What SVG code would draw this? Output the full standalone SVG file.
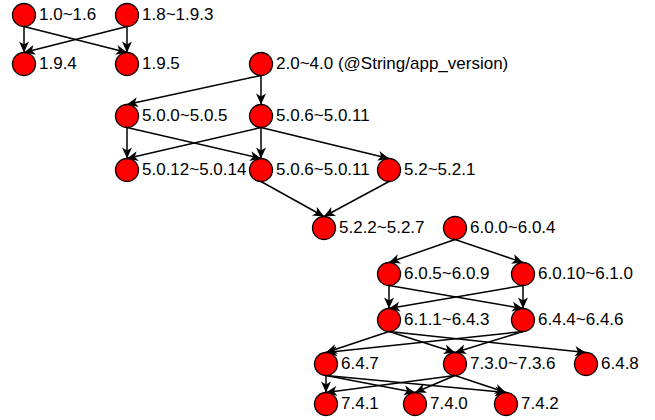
<svg xmlns="http://www.w3.org/2000/svg" width="655" height="420" viewBox="0 0 655 420">
  <defs>
    <style>
      .node circle { fill: #ff0000; stroke: #000; stroke-width: 1.3; }
      .node text { font-family: "Liberation Sans", Arial, Helvetica, sans-serif; font-size: 17px; fill: #000; }
      .edges path { fill: none; stroke: #000; stroke-width: 1.5; marker-end: url(#arrow); }
    </style>
    <!-- edges leave from the bottom of a node and end with the tip on the top of the next -->
    <marker id="arrow" markerUnits="userSpaceOnUse" markerWidth="12" markerHeight="11" refX="11" refY="5" orient="auto" overflow="visible">
      <path d="M0,0 L11,5 L0,10 L3,5 Z" fill="#000"/>
    </marker>
  </defs>

  <g id="connectors" class="edges">
    <path d="M24,26.5 L24,52.5"/>
    <path d="M24,26.5 L127,52.5"/>
    <path d="M127,26.5 L127,52.5"/>
    <path d="M127,26.5 L24,52.5"/>

    <path d="M261,75.5 L127,104.5"/>
    <path d="M261,75.5 L261,104.5"/>

    <path d="M127,127.5 L127,158.5"/>
    <path d="M127,127.5 L261,158.5"/>
    <path d="M261,127.5 L127,158.5"/>
    <path d="M261,127.5 L261,158.5"/>
    <path d="M261,127.5 L389,158.5"/>

    <path d="M261,181.5 L324,216.5"/>
    <path d="M389,181.5 L324,216.5"/>

    <path d="M455,239.5 L389,262.5"/>
    <path d="M455,239.5 L523,262.5"/>

    <path d="M389,285.5 L389,308.5"/>
    <path d="M389,285.5 L523,308.5"/>
    <path d="M523,285.5 L389,308.5"/>
    <path d="M523,285.5 L523,308.5"/>

    <path d="M389,331.5 L326,352.5"/>
    <path d="M389,331.5 L455,352.5"/>
    <path d="M389,331.5 L586,352.5"/>
    <path d="M523,331.5 L326,352.5"/>
    <path d="M523,331.5 L455,352.5"/>

    <path d="M326,375.5 L326,392.5"/>
    <path d="M326,375.5 L415,392.5"/>
    <path d="M326,375.5 L506,392.5"/>
    <path d="M455,375.5 L326,392.5"/>
    <path d="M455,375.5 L415,392.5"/>
    <path d="M455,375.5 L506,392.5"/>
  </g>

  <g id="v1_0" class="node"><circle cx="24" cy="15" r="11.5"/><text x="39" y="20">1.0~1.6</text></g>
  <g id="v1_8" class="node"><circle cx="127" cy="15" r="11.5"/><text x="142" y="20">1.8~1.9.3</text></g>
  <g id="v1_9_4" class="node"><circle cx="24" cy="64" r="11.5"/><text x="39" y="69">1.9.4</text></g>
  <g id="v1_9_5" class="node"><circle cx="127" cy="64" r="11.5"/><text x="142" y="69">1.9.5</text></g>
  <g id="v2_0" class="node"><circle cx="261" cy="64" r="11.5"/><text x="276" y="69">2.0~4.0 (@String/app_version)</text></g>

  <g id="v5_0_0" class="node"><circle cx="127" cy="116" r="11.5"/><text x="142" y="121">5.0.0~5.0.5</text></g>
  <g id="v5_0_6a" class="node"><circle cx="261" cy="116" r="11.5"/><text x="276" y="121">5.0.6~5.0.11</text></g>
  <g id="v5_0_12" class="node"><circle cx="127" cy="170" r="11.5"/><text x="142" y="175">5.0.12~5.0.14</text></g>
  <g id="v5_0_6b" class="node"><circle cx="261" cy="170" r="11.5"/><text x="276" y="175">5.0.6~5.0.11</text></g>
  <g id="v5_2" class="node"><circle cx="389" cy="170" r="11.5"/><text x="404" y="175">5.2~5.2.1</text></g>
  <g id="v5_2_2" class="node"><circle cx="324" cy="228" r="11.5"/><text x="339" y="233">5.2.2~5.2.7</text></g>

  <g id="v6_0_0" class="node"><circle cx="455" cy="228" r="11.5"/><text x="470" y="233">6.0.0~6.0.4</text></g>
  <g id="v6_0_5" class="node"><circle cx="389" cy="274" r="11.5"/><text x="404" y="279">6.0.5~6.0.9</text></g>
  <g id="v6_0_10" class="node"><circle cx="523" cy="274" r="11.5"/><text x="538" y="279">6.0.10~6.1.0</text></g>
  <g id="v6_1_1" class="node"><circle cx="389" cy="320" r="11.5"/><text x="404" y="325">6.1.1~6.4.3</text></g>
  <g id="v6_4_4" class="node"><circle cx="523" cy="320" r="11.5"/><text x="538" y="325">6.4.4~6.4.6</text></g>
  <g id="v6_4_7" class="node"><circle cx="326" cy="364" r="11.5"/><text x="341" y="369">6.4.7</text></g>
  <g id="v7_3_0" class="node"><circle cx="455" cy="364" r="11.5"/><text x="470" y="369">7.3.0~7.3.6</text></g>
  <g id="v6_4_8" class="node"><circle cx="586" cy="364" r="11.5"/><text x="601" y="369">6.4.8</text></g>
  <g id="v7_4_1" class="node"><circle cx="326" cy="404" r="11.5"/><text x="341" y="409">7.4.1</text></g>
  <g id="v7_4_0" class="node"><circle cx="415" cy="404" r="11.5"/><text x="430" y="409">7.4.0</text></g>
  <g id="v7_4_2" class="node"><circle cx="506" cy="404" r="11.5"/><text x="521" y="409">7.4.2</text></g>
</svg>
